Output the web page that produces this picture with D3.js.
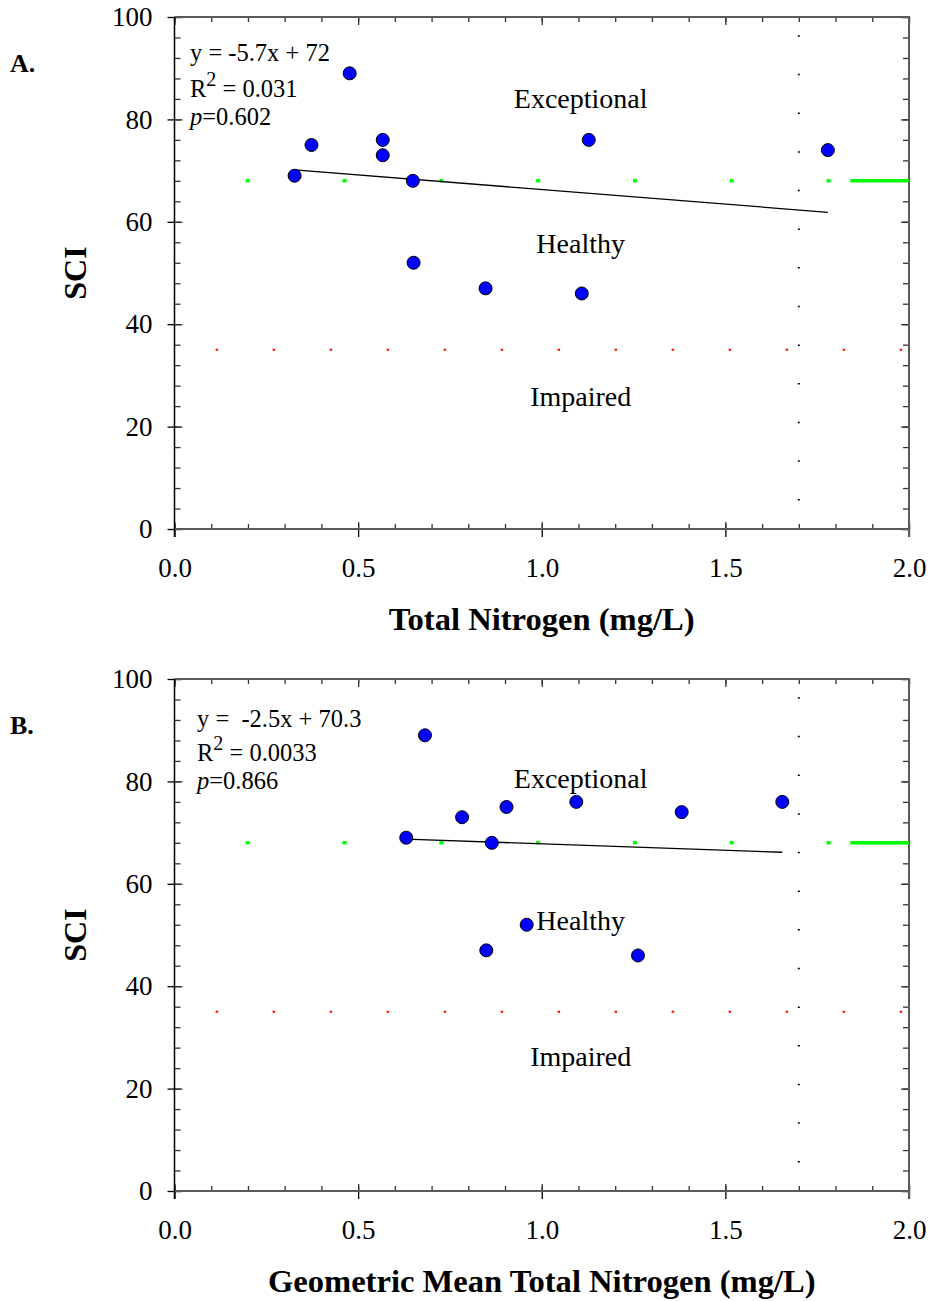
<!DOCTYPE html>
<html>
<head>
<meta charset="utf-8">
<script src="https://cdn.jsdelivr.net/npm/d3@7"></script>
<style>
  body { margin: 0; background: #fff; }
  svg text { font-family: "Liberation Serif", "Times New Roman", serif; fill: #000; }
</style>
</head>
<body>
<svg id="chart" width="929" height="1301"></svg>
<script>
// axis ticks
var xTicks = [0, 0.5, 1.0, 1.5, 2.0];
var yTicks = [0, 20, 40, 60, 80, 100];

// panel A : total nitrogen vs SCI
var tnA  = [0.327, 0.373, 0.477, 0.567, 0.567, 0.649, 0.651, 0.847, 1.109, 1.128, 1.779];
var sciA = [69, 75, 89, 76, 73, 68, 52, 47, 46, 76, 74];

// panel B : geometric mean total nitrogen vs SCI
var gmB  = [0.631, 0.682, 0.783, 0.904, 0.864, 1.094, 1.381, 1.655, 0.959, 0.849, 1.262];
var sciB = [69, 89, 73, 75, 68, 76, 74, 76, 52, 47, 46];

// regression fits
var fitSlope     = [-5.7, -2.5];
var fitIntercept = [72, 70.3];
var fitText = [
  ["y = -5.7x + 72", "0.031", "0.602"],
  ["y =  -2.5x + 70.3", "0.0033", "0.866"]
];

// thresholds
var exceptionalSCI = 68;
var impairedSCI = 35;
var refTN = 1.7;

var panelNames = ["A.", "B."];
var xTitles = ["Total Nitrogen (mg/L)", "Geometric Mean Total Nitrogen (mg/L)"];
var categories = ["Exceptional", "Healthy", "Impaired"];
// label anchor (SCI value) for each category, per panel
var catPosA = [82.2, 54.0, 24.0];
var catPosB = [78.7, 51.0, 24.4];

var svg = d3.select("#chart");

var panels = [
  {top: 17,  xs: tnA, ys: sciA, cat: catPosA},
  {top: 679, xs: gmB, ys: sciB, cat: catPosB}
];

var left = 174.5, right = 909, plotH = 512;

panels.forEach(function(p, i){
  var g = svg.append("g");
  var x = d3.scaleLinear().domain([0, 2]).range([left, right]);
  var y = d3.scaleLinear().domain([0, 100]).range([p.top + plotH, p.top]);
  var bottom = p.top + plotH;

  // minor / major inward ticks
  var minorX = d3.range(0, 21).map(function(d){ return d / 10; });
  var minorY = d3.range(0, 26).map(function(d){ return d * 4; });

  function tickAxis(axis, values, size, tx, ty, col){
    var a = g.append("g")
      .attr("transform", "translate(" + tx + "," + ty + ")")
      .call(axis.tickValues(values).tickSize(size).tickFormat(""));
    a.select(".domain").remove();
    a.selectAll("line").attr("stroke", col).attr("stroke-width", 1.3);
  }
  tickAxis(d3.axisBottom(x), minorX, -5, 0, bottom, "#333");
  tickAxis(d3.axisBottom(x), xTicks, -7, 0, bottom, "#333");
  tickAxis(d3.axisTop(x), minorX, -5, 0, p.top, "#333");
  tickAxis(d3.axisTop(x), xTicks, -8, 0, p.top, "#333");
  tickAxis(d3.axisLeft(y), minorY, -6, left, 0, "#333");
  tickAxis(d3.axisLeft(y), yTicks, -8, left, 0, "#333");
  tickAxis(d3.axisRight(y), minorY, -6, right, 0, "#333");
  tickAxis(d3.axisRight(y), yTicks, -8, right, 0, "#333");

  // labelled axes
  var xa = g.append("g")
    .attr("transform", "translate(0," + bottom + ")")
    .call(d3.axisBottom(x).tickValues(xTicks).tickSize(8).tickPadding(21)
      .tickFormat(d3.format(".1f")));
  xa.select(".domain").remove();
  xa.selectAll("line").attr("stroke", "#000").attr("stroke-width", 1.3);
  xa.selectAll("text").attr("font-size", 27).style("font-family", "Liberation Serif, serif");

  var ya = g.append("g")
    .attr("transform", "translate(" + left + ",0)")
    .call(d3.axisLeft(y).tickValues(yTicks).tickSize(7).tickPadding(15));
  ya.select(".domain").remove();
  ya.selectAll("line").attr("stroke", "#000").attr("stroke-width", 1.3);
  ya.selectAll("text").attr("font-size", 27).style("font-family", "Liberation Serif, serif");

  // frame
  g.append("path")
    .attr("d", "M" + left + "," + p.top + "H" + right + "V" + (bottom + 8) + "M" + left + "," + bottom + "H" + right)
    .attr("fill", "none").attr("stroke", "#5a5a5a").attr("stroke-width", 2);
  g.append("line")
    .attr("x1", left).attr("x2", left).attr("y1", p.top).attr("y2", bottom + 8)
    .attr("stroke", "#000").attr("stroke-width", 1.5);

  // threshold lines
  g.append("line")
    .attr("x1", x(0.194)).attr("x2", x(1.79))
    .attr("y1", y(exceptionalSCI)).attr("y2", y(exceptionalSCI))
    .attr("stroke", "#00ff00").attr("stroke-width", 3.5)
    .attr("stroke-dasharray", "4 92.8");
  g.append("line")
    .attr("x1", x(1.84)).attr("x2", x(2))
    .attr("y1", y(exceptionalSCI)).attr("y2", y(exceptionalSCI))
    .attr("stroke", "#00ff00").attr("stroke-width", 3.5);
  g.append("line")
    .attr("x1", x(0.112)).attr("x2", x(2))
    .attr("y1", y(impairedSCI)).attr("y2", y(impairedSCI))
    .attr("stroke", "#ff0000").attr("stroke-width", 2)
    .attr("stroke-dasharray", "2.5 54.5");
  g.append("line")
    .attr("x1", x(refTN)).attr("x2", x(refTN))
    .attr("y1", y(100)).attr("y2", y(0))
    .attr("stroke", "#000").attr("stroke-width", 2)
    .attr("stroke-dasharray", "1.5 37.15").attr("stroke-dashoffset", -18.2);

  // regression line
  var ext = d3.extent(p.xs);
  g.append("line")
    .attr("x1", x(ext[0])).attr("x2", x(ext[1]))
    .attr("y1", y(fitSlope[i] * ext[0] + fitIntercept[i]))
    .attr("y2", y(fitSlope[i] * ext[1] + fitIntercept[i]))
    .attr("stroke", "#000").attr("stroke-width", 1.3);

  // points
  g.selectAll("circle.pt")
    .data(p.xs.map(function(d, k){ return [d, p.ys[k]]; }))
    .enter().append("circle")
    .attr("class", "pt")
    .attr("cx", function(d){ return x(d[0]); })
    .attr("cy", function(d){ return y(d[1]); })
    .attr("r", 6.5)
    .attr("fill", "#0000ff").attr("stroke", "#000").attr("stroke-width", 1);

  // category labels
  g.selectAll("text.cat")
    .data(categories)
    .enter().append("text")
    .attr("class", "cat")
    .attr("x", x(1.106))
    .attr("y", function(d, k){ return y(p.cat[k]); })
    .attr("text-anchor", "middle")
    .attr("font-size", 28)
    .text(function(d){ return d; });

  // fit annotation
  var ax = i === 0 ? 190 : 197;
  var by = i === 0 ? [60.5, 96.5, 124.5] : [727, 760.5, 788.5];
  g.append("text").attr("x", ax).attr("y", by[0]).attr("font-size", 24.5)
    .style("white-space", "pre").attr("xml:space", "preserve")
    .text(fitText[i][0]);
  var r2 = g.append("text").attr("x", ax).attr("y", by[1]).attr("font-size", 24.5);
  r2.append("tspan").text("R");
  r2.append("tspan").attr("font-size", 20).attr("dy", -11).text("2");
  r2.append("tspan").attr("dy", 11).text(" = " + fitText[i][1]);
  var pt = g.append("text").attr("x", ax).attr("y", by[2]).attr("font-size", 24.5);
  pt.append("tspan").attr("font-style", "italic").text("p");
  pt.append("tspan").text("=" + fitText[i][2]);

  // panel letter
  g.append("text").attr("x", 10).attr("y", p.top + 55)
    .attr("font-size", 26).attr("font-weight", "bold").text(panelNames[i]);

  // axis titles
  g.append("text")
    .attr("x", x(1.0)).attr("y", bottom + 101)
    .attr("text-anchor", "middle").attr("font-size", 32.6).attr("font-weight", "bold")
    .text(xTitles[i]);
  g.append("text")
    .attr("transform", "translate(86," + y(50) + ") rotate(-90)")
    .attr("text-anchor", "middle").attr("font-size", 32).attr("font-weight", "bold")
    .text("SCI");
});
</script>
</body>
</html>
